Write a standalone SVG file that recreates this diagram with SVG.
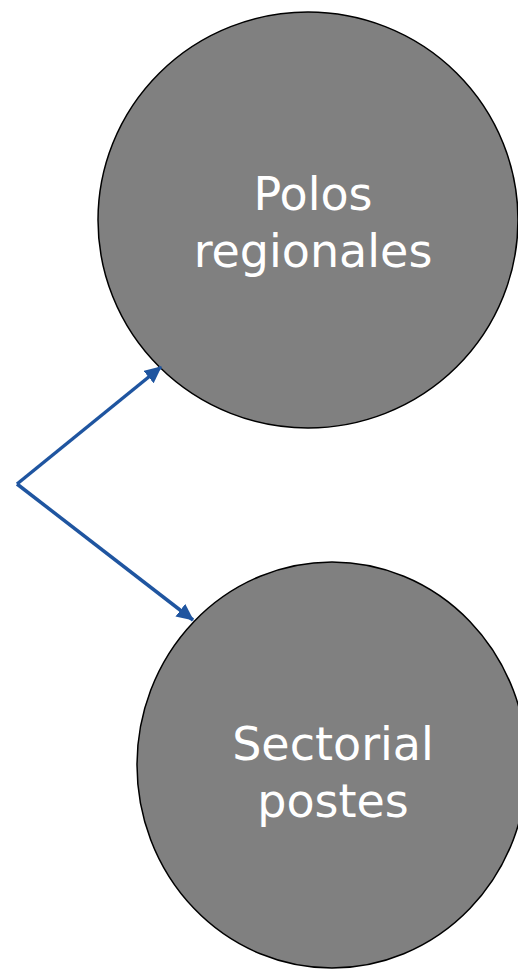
<svg xmlns="http://www.w3.org/2000/svg" width="518" height="975" viewBox="0 0 518 975">
<defs>
<style>
.node{fill:#808080;stroke:#000;stroke-width:1.5}
.lbl{font-family:"DejaVu Sans","Verdana",sans-serif;font-size:46px;fill:#fff;text-anchor:middle}
.conn{stroke:#1F55A0;stroke-width:3.5;fill:none}
</style>
<marker id="ah" markerUnits="userSpaceOnUse" markerWidth="18" markerHeight="16" refX="16" refY="8" orient="auto">
<path d="M0,0 L17,8 L0,16 z" fill="#1F55A0"/>
</marker>
</defs>
<rect width="518" height="975" fill="#fff"/>
<g id="node-polos">
<ellipse class="node" cx="308" cy="220" rx="210" ry="208"/>
<text class="lbl" x="313" y="210">Polos</text>
<text class="lbl" x="313" y="267">regionales</text>
</g>
<g id="node-sectorial">
<ellipse class="node" cx="332" cy="765" rx="195" ry="203"/>
<text class="lbl" x="333" y="760">Sectorial</text>
<text class="lbl" x="333" y="817">postes</text>
</g>
<g id="connectors">
<line class="conn" x1="17" y1="484" x2="161" y2="367" marker-end="url(#ah)"/>
<line class="conn" x1="17" y1="484" x2="193" y2="620" marker-end="url(#ah)"/>
</g>
</svg>
